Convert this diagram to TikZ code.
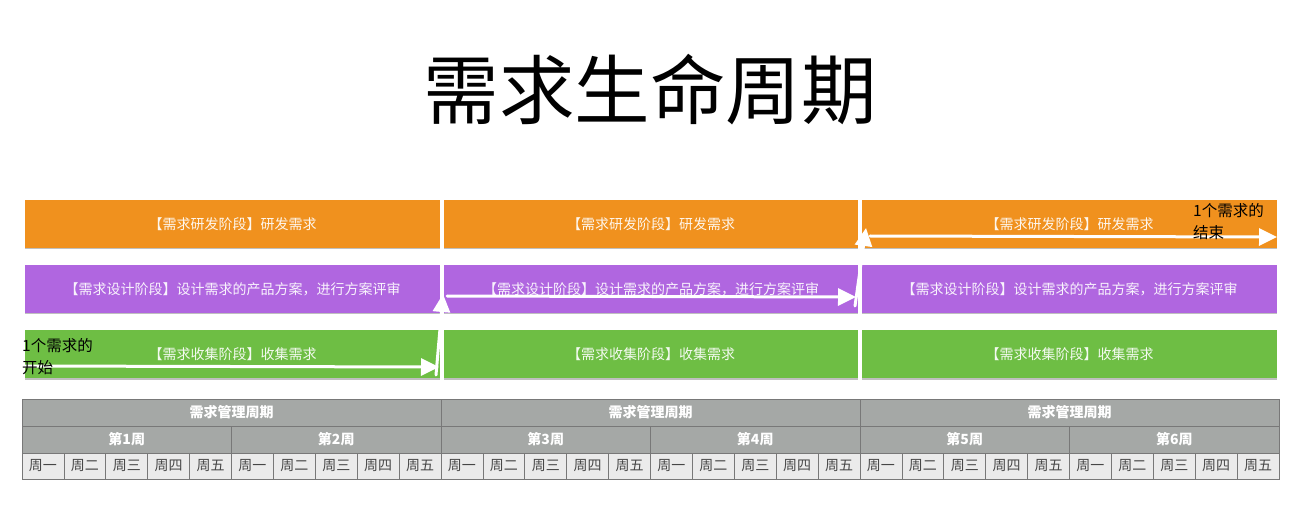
\documentclass[tikz,border=0pt]{standalone}
\usepackage{fontspec}
\newfontfamily\cjk{Noto Sans CJK SC}
\usetikzlibrary{arrows.meta,shadows}
\definecolor{cOrange}{RGB}{240,145,30}
\definecolor{cPurple}{RGB}{176,102,224}
\definecolor{cGreen}{RGB}{110,190,68}
\definecolor{cHead}{RGB}{165,168,166}
\definecolor{cDay}{RGB}{235,235,235}
\definecolor{cLine}{RGB}{120,120,120}
\definecolor{cDayText}{RGB}{70,70,70}
\tikzset{
  bar/.style={minimum width=415pt, minimum height=48pt, inner sep=0pt,
    text=white, text opacity=0.92, font=\cjk\fontsize{14}{16}\selectfont,
    drop shadow={shadow xshift=0pt, shadow yshift=-1.5pt, opacity=0.25, fill=black}},
  hcell/.style={draw=cLine, line width=0.8pt, fill=cHead, inner sep=0pt,
    text=white, font=\cjk\bfseries\fontsize{14}{16}\selectfont},
  dcell/.style={draw=cLine, line width=0.8pt, fill=cDay, inner sep=0pt,
    text=cDayText, font=\cjk\fontsize{14}{16}\selectfont},
  chalk/.style={draw=white, line width=3pt, line cap=round,
    -{Triangle[length=18pt,width=17pt]}},
  hand/.style={font=\cjk\fontsize{15.5}{22}\selectfont, align=left, inner sep=0pt, text=black}
}
\begin{document}
\begin{tikzpicture}[x=1pt,y=-1pt]
\useasboundingbox (0,0) rectangle (1301,529);
\fill[white] (0,0) rectangle (1301,529);
% title
\node[font=\cjk\fontsize{75.5}{80}\selectfont, text=black] (title) at (650,90) {需求生命周期};
% bars
\foreach \c/\x/\w in {1/232.5/415, 2/651/414, 3/1069.5/415}{
  \node[bar, fill=cOrange, minimum width=\w pt] (o\c) at (\x,224) {【需求研发阶段】研发需求};
  \node[bar, fill=cPurple, minimum width=\w pt] (p\c) at (\x,289) {【需求设计阶段】设计需求的产品方案，进行方案评审};
  \node[bar, fill=cGreen, minimum width=\w pt] (g\c) at (\x,354) {【需求收集阶段】收集需求};
}
% table
\foreach \j in {0,1,2}{
  \pgfmathsetmacro{\hx}{22+419*\j+209.5}
  \node[hcell, minimum width=419pt, minimum height=27pt] (h\j) at (\hx,412.5) {需求管理周期};
}
\foreach \k in {1,...,6}{
  \pgfmathsetmacro{\wx}{22+209.5*(\k-1)+104.75}
  \node[hcell, minimum width=209.5pt, minimum height=27pt] (w\k) at (\wx,439.5) {第\k 周};
}
\foreach \k in {0,...,29}{
  \pgfmathtruncatemacro{\dd}{mod(\k,5)}
  \pgfmathsetmacro{\dx}{22+41.9*\k+20.95}
  \ifcase\dd \def\dn{周一}\or \def\dn{周二}\or \def\dn{周三}\or \def\dn{周四}\or \def\dn{周五}\fi
  \node[dcell, minimum width=41.9pt, minimum height=26pt] (d\k) at (\dx,466) {\dn};
}
% chalk arrows
\coordinate (s0) at (22,366);
\coordinate (t0) at (439,367);
\coordinate (s1) at (436,375);
\coordinate (t1) at (443,294);
\coordinate (s2) at (447,296);
\coordinate (t2) at (856,297);
\coordinate (s3) at (855,306);
\coordinate (t3) at (866,228);
\coordinate (s4) at (870,236);
\coordinate (t4) at (1277,237);
\draw[chalk] (s0) -- (t0);
\draw[chalk] (s1) -- (t1);
\draw[chalk] (s2) -- (t2);
\draw[chalk] (s3) -- (t3);
\draw[chalk] (s4) -- (t4);
% hand labels
\node[hand, anchor=north west] (startlbl) at (22,338) {1个需求的\\开始};
\node[hand, anchor=north west] (endlbl) at (1193,203) {1个需求的\\结束};
\end{tikzpicture}
\end{document}
